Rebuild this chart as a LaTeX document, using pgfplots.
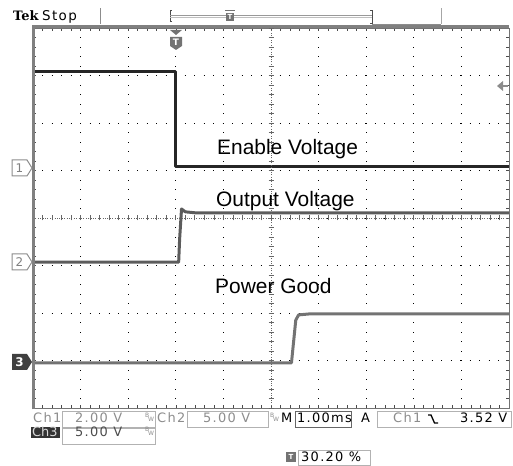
\documentclass[border=0pt]{standalone}
\usepackage{pgfplots}
\pgfplotsset{compat=1.18}
\usepackage{fontspec}
\setmainfont{Liberation Sans}
\newfontfamily\tekfont[LetterSpace=10]{DejaVu Sans}
\newfontfamily\tekplain{DejaVu Sans}
\newfontfamily\teklogo{DejaVu Serif}

\definecolor{chone}{gray}{0.15}
\definecolor{chtwo}{gray}{0.36}
\definecolor{chthree}{gray}{0.45}
\definecolor{frame}{gray}{0.5}

\begin{document}
\begin{tikzpicture}[x=1bp,y=1bp]
\path[use as bounding box] (0,0) rectangle (513,466);

\begin{axis}[
    at={(33bp,58bp)}, anchor=south west,
    scale only axis, width=476bp, height=380bp,
    xmin=-5, xmax=5, ymin=-4, ymax=4,
    xtick={-5,...,5}, ytick={-4,...,4},
    xticklabels={}, yticklabels={},
    minor x tick num=4, minor y tick num=4,
    tick align=inside,
    major tick length=3bp, minor tick length=3bp,
    every tick/.style={black!70, line width=0.6bp},
    grid=major,
    major grid style={black, line width=0.9bp, dash pattern=on 0.9bp off 8.6bp, dash phase=0.45bp},
    axis line style={black!55, line width=0.8bp},
]
% Ch1 enable voltage
\addplot[chone, line width=3bp, line join=round] coordinates {
    (-5,3.09) (-2.0,3.09) (-2.0,1.09) (5,1.09)};
% Ch2 output voltage
\addplot[chtwo, line width=3bp, line join=round] coordinates {
    (-5,-0.93) (-1.94,-0.93) (-1.92,-0.45) (-1.88,0.19) (-1.80,0.13) (-1.6,0.11) (5,0.11)};
% Ch3 power good
\addplot[chthree, line width=3bp, line join=round] coordinates {
    (-5,-3.05) (0.43,-3.05) (0.46,-2.75) (0.52,-2.15) (0.58,-2.04) (0.8,-2.02) (5,-2.02)};
\end{axis}

% center cross of the graticule
\draw[black!60, line width=0.8bp, dash pattern=on 1bp off 1.4bp] (33,248) -- (509,248);
\draw[black!60, line width=0.8bp, dash pattern=on 1bp off 1.4bp] (271,58) -- (271,438);
\foreach \i in {-25,...,25} \draw[black!60, line width=0.7bp] (271+\i*9.52,245.5) -- (271+\i*9.52,250.5);
\foreach \j in {-20,...,20} \draw[black!60, line width=0.7bp] (268.5,248+\j*9.5) -- (273.5,248+\j*9.5);

% heavy left and top border
\draw[frame, line width=3bp] (33,56.5) -- (33,439.5) -- (509,439.5);

% header
\node[anchor=base west, inner sep=0] at (13,445) {\teklogo\fontsize{13}{13}\selectfont\bfseries Tek};
\node[anchor=base west, inner sep=0] at (42,445) {\tekfont\fontsize{13.5}{13.5}\selectfont Stop};
\draw[black!45, line width=1bp] (100,442) -- (100,458);
\draw[black!35, line width=1bp] (441,442) -- (441,458);
\draw[black!70, line width=1bp] (172,444) -- (170,444) -- (170,455) -- (172,455);
\draw[black!70, line width=1bp] (370,442) -- (372,442) -- (372,455) -- (370,455);
\draw[black!40, line width=1bp] (170,450.5) -- (372,450.5);
\draw[black!25, line width=1bp] (170,448.5) -- (372,448.5);
\draw[black!45, line width=1bp] (372,441) -- (441,441);
\fill[black!55] (226,445) rectangle (234,453);
\draw[black!55, line width=1bp] (225,455) -- (235,455);
\node[white, inner sep=0] at (230,449) {\tekplain\fontsize{7}{7}\selectfont\bfseries T};

% trigger position marker
\fill[black!55] (170,436) -- (182,436) -- (176,431) -- cycle;
\fill[black!55] (170,429) -- (182,429) -- (182,420) -- (176,416) -- (170,420) -- cycle;
\node[white, inner sep=0] at (176,423.5) {\tekplain\fontsize{9}{9}\selectfont\bfseries T};

% trigger level arrow
\fill[black!45] (497,380) -- (503,385) -- (503,375) -- cycle;
\draw[black!45, line width=2bp] (502,380) -- (508,380);

% channel ground markers
\draw[black!45, line width=1bp, fill=white] (12,306) -- (27,306) -- (32,298) -- (27,290) -- (12,290) -- cycle;
\node[black!50, inner sep=0] at (19.5,298) {\tekplain\fontsize{12}{12}\selectfont 1};
\draw[black!45, line width=1bp, fill=white] (12,212) -- (27,212) -- (32,204) -- (27,196) -- (12,196) -- cycle;
\node[black!50, inner sep=0] at (19.5,204) {\tekplain\fontsize{12}{12}\selectfont 2};
\fill[black!75] (12,112) -- (27,112) -- (32,104) -- (27,96) -- (12,96) -- cycle;
\node[white, inner sep=0] at (19.5,104) {\tekplain\fontsize{12}{12}\selectfont\bfseries 3};

% trace labels
\node[anchor=base west, inner sep=0] at (217,311) {\fontsize{21}{21}\selectfont Enable Voltage};
\node[anchor=base west, inner sep=0] at (216,259) {\fontsize{21}{21}\selectfont Output Voltage};
\node[anchor=base west, inner sep=0] at (215,172) {\fontsize{21}{21}\selectfont Power Good};

% status line boxes
\draw[black!30, line width=0.8bp] (62,39) rectangle (155,55);
\draw[black!30, line width=0.8bp] (187,39) rectangle (268,55);
\draw[black!60, line width=0.8bp] (295,39) rectangle (351,55);
\draw[black!30, line width=0.8bp] (377,39) rectangle (511,55);
\draw[black!30, line width=0.8bp] (62,22) rectangle (155,38);
\draw[black!30, line width=0.8bp] (298,0.5) rectangle (370,16);

% status line text
\node[anchor=base west, inner sep=0, black!45] at (33,43) {\tekfont\fontsize{13}{13}\selectfont Ch1};
\node[anchor=base west, inner sep=0, black!45] at (75,43) {\tekfont\fontsize{13}{13}\selectfont 2.00 V};
\node[anchor=base west, inner sep=0, black!45] at (145,48) {\tekplain\fontsize{6}{6}\selectfont B};
\node[anchor=base west, inner sep=0, black!45] at (148,44) {\tekplain\fontsize{6}{6}\selectfont W};
\node[anchor=base west, inner sep=0, black!45] at (157,43) {\tekfont\fontsize{13}{13}\selectfont Ch2};
\node[anchor=base west, inner sep=0, black!45] at (203,43) {\tekfont\fontsize{13}{13}\selectfont 5.00 V};
\node[anchor=base west, inner sep=0, black!45] at (270,48) {\tekplain\fontsize{6}{6}\selectfont B};
\node[anchor=base west, inner sep=0, black!45] at (273,44) {\tekplain\fontsize{6}{6}\selectfont W};
\node[anchor=base west, inner sep=0] at (281,43) {\tekfont\fontsize{13}{13}\selectfont M};
\node[anchor=base west, inner sep=0] at (297,43) {\tekfont\fontsize{13}{13}\selectfont 1.00ms};
\node[anchor=base west, inner sep=0] at (361,43) {\tekfont\fontsize{13}{13}\selectfont A};
\node[anchor=base west, inner sep=0, black!45] at (393,43) {\tekfont\fontsize{13}{13}\selectfont Ch1};
\draw[black, line width=1.3bp] (428,51) -- (431,51) -- (434.5,43) -- (438,43);
\node[anchor=base west, inner sep=0] at (460,43) {\tekfont\fontsize{13}{13}\selectfont 3.52 V};

\fill[black!80] (31,27.5) rectangle (60,38.5);
\node[anchor=base west, inner sep=0, black!15] at (32,29.5) {\tekplain\fontsize{13}{13}\selectfont Ch3};
\node[anchor=base west, inner sep=0, black!70] at (75,29.5) {\tekfont\fontsize{13}{13}\selectfont 5.00 V};
\node[anchor=base west, inner sep=0, black!45] at (145,34) {\tekplain\fontsize{6}{6}\selectfont B};
\node[anchor=base west, inner sep=0, black!45] at (148,30) {\tekplain\fontsize{6}{6}\selectfont W};

\fill[black!55] (286,4) rectangle (296,14);
\node[white, inner sep=0] at (291,9) {\tekplain\fontsize{7}{7}\selectfont\bfseries T};
\node[anchor=base west, inner sep=0] at (301,4) {\tekfont\fontsize{13}{13}\selectfont 30.20 \%};
\end{tikzpicture}
\end{document}
